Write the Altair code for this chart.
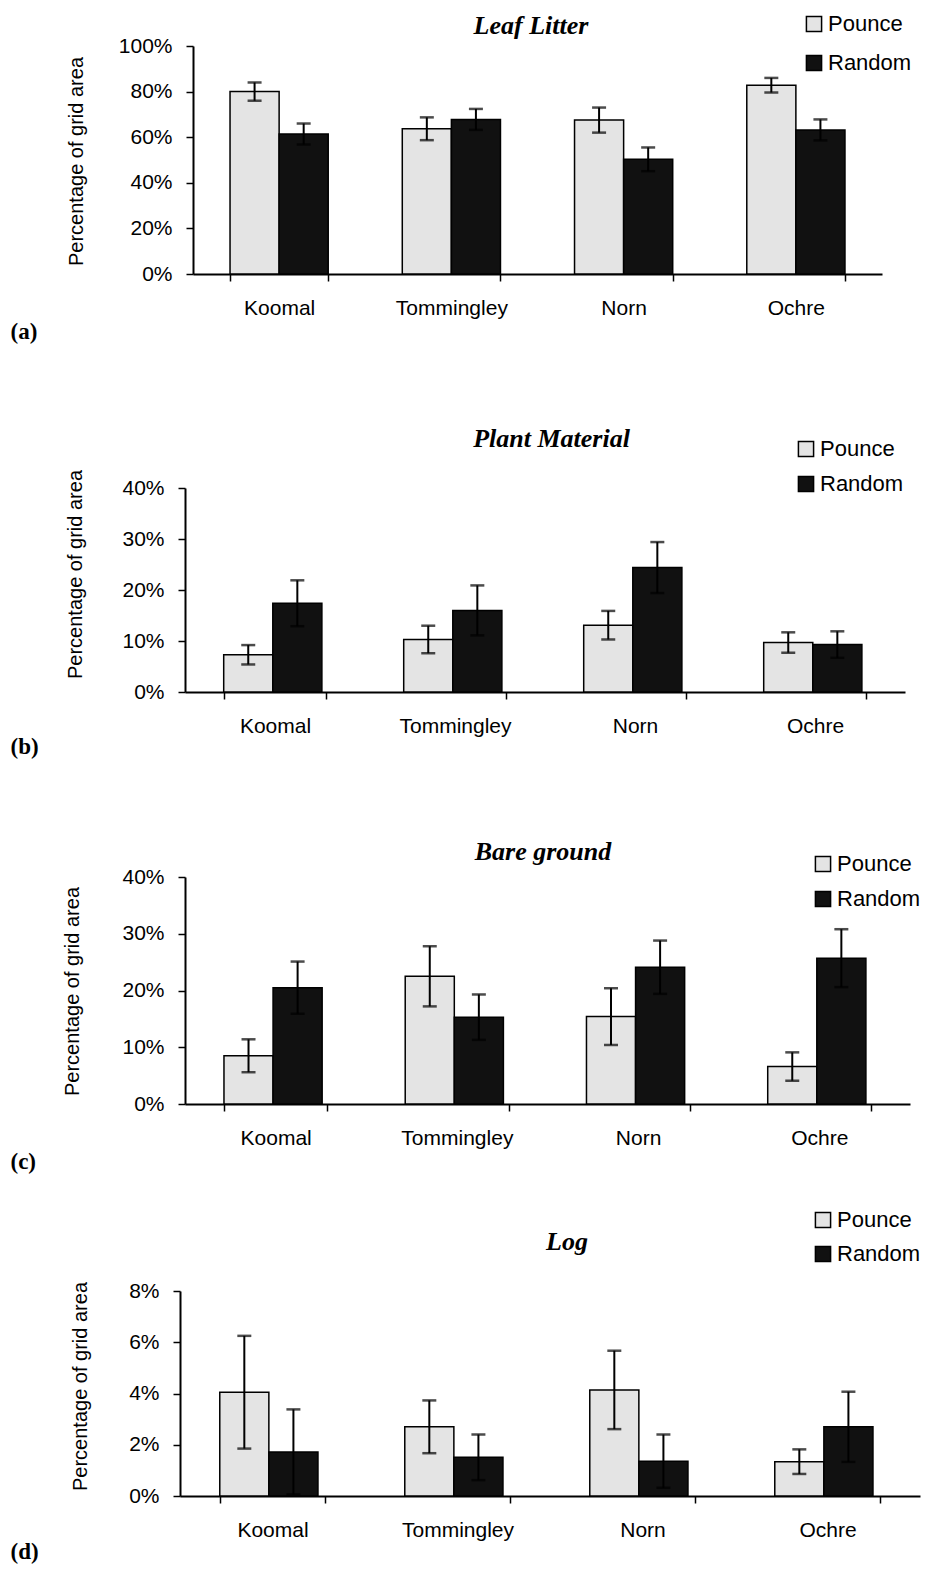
import altair as alt
import pandas as pd

sites = ["Koomal", "Tommingley", "Norn", "Ochre"]
series = ["Pounce", "Random"]

leaf_pounce = [80.0, 63.7, 67.5, 82.8]
leaf_pounce_err = [4.0, 5.0, 5.5, 3.2]
leaf_random = [61.4, 67.8, 50.3, 63.2]
leaf_random_err = [4.6, 4.6, 5.2, 4.6]

plant_pounce = [7.3, 10.3, 13.1, 9.7]
plant_pounce_err = [1.9, 2.7, 2.8, 2.0]
plant_random = [17.4, 16.0, 24.4, 9.3]
plant_random_err = [4.5, 4.9, 5.0, 2.6]

bare_pounce = [8.5, 22.5, 15.4, 6.6]
bare_pounce_err = [2.9, 5.3, 5.0, 2.5]
bare_random = [20.5, 15.3, 24.1, 25.7]
bare_random_err = [4.6, 4.0, 4.7, 5.1]

log_pounce = [4.05, 2.70, 4.14, 1.34]
log_pounce_err = [2.2, 1.03, 1.53, 0.48]
log_random = [1.72, 1.51, 1.36, 2.70]
log_random_err = [1.66, 0.89, 1.04, 1.37]

LIGHT = "#e4e4e4"
DARK = "#111111"


def make_df(pounce, perr, random, rerr):
    rows = []
    for i, s in enumerate(sites):
        for ser, vals, errs in (("Pounce", pounce, perr), ("Random", random, rerr)):
            m = vals[i] / 100.0
            e = errs[i] / 100.0
            rows.append({"site": s, "series": ser, "mean": m, "lo": m - e, "hi": m + e})
    return pd.DataFrame(rows)


def panel(title, label, data, ymax, ystep, H, h, left, width, t_off, t_dx,
          leg_x, leg_y, row_pad, ytitle_x, ytitle_y, roman_y):
    df = make_df(*data)
    nticks = int(round(ymax / ystep))
    yvals = [round(i * ystep, 4) for i in range(nticks + 1)]
    yscale = alt.Scale(domain=[0, ymax], range=[H, H - h], nice=False, zero=True)
    yaxis = alt.Axis(format=".0%", values=yvals,
                     title="Percentage of grid area",
                     titleFontSize=20, titleFontWeight="normal",
                     titleX=ytitle_x, titleY=ytitle_y, titleBaseline="middle",
                     titleAlign="center",
                     offset=-left, grid=False, domainWidth=2,
                     tickSize=7, tickWidth=1.5, labelFontSize=21,
                     labelPadding=14)
    xscale = alt.Scale(range=[left, width], paddingInner=0.43, paddingOuter=0.215)
    base = alt.Chart(df).encode(
        x=alt.X("site:N", sort=sites, scale=xscale,
                axis=alt.Axis(title=label, titleFont="Liberation Serif",
                              titleFontWeight="bold", titleFontSize=23,
                              titleX=-170, titleY=roman_y, titleAlign="left",
                              titleBaseline="middle", labelAngle=0,
                              labelFontSize=21, labelPadding=16,
                              tickBand="extent", tickSize=7, tickWidth=1.5,
                              domainWidth=2)),
        xOffset=alt.XOffset("series:N", sort=series,
                            scale=alt.Scale(paddingInner=0, paddingOuter=0)),
    )
    bars = base.mark_bar(stroke="black", strokeWidth=1.5).encode(
        y=alt.Y("mean:Q", scale=yscale, axis=yaxis),
        color=alt.Color("series:N", sort=series,
                        scale=alt.Scale(domain=series, range=[LIGHT, DARK]),
                        legend=alt.Legend(title=None, orient="none",
                                          legendX=leg_x, legendY=leg_y,
                                          symbolType="square", symbolSize=230,
                                          symbolStrokeColor="black",
                                          symbolStrokeWidth=1.5,
                                          labelFontSize=22, labelOffset=3,
                                          rowPadding=row_pad)),
    )
    err = base.mark_rule(color="black", strokeWidth=2).encode(
        y=alt.Y("lo:Q", scale=yscale, axis=yaxis), y2="hi:Q")
    cap_hi = base.mark_tick(color="black", thickness=2.5, size=14).encode(
        y=alt.Y("hi:Q", scale=yscale, axis=yaxis))
    cap_lo = base.mark_tick(color="black", thickness=2.5, size=14).encode(
        y=alt.Y("lo:Q", scale=yscale, axis=yaxis))
    return alt.layer(bars, err, cap_hi, cap_lo).properties(
        width=width, height=H,
        title=alt.TitleParams(title, font="Liberation Serif", fontStyle="italic",
                              fontWeight="bold", fontSize=26, anchor="middle",
                              offset=t_off, dx=t_dx),
    )


pa = panel("Leaf Litter", "(a)", (leaf_pounce, leaf_pounce_err, leaf_random, leaf_random_err),
           1.0, 0.2, 228, 228, 13, 702, -26, 0, 623, -33, 17, -117, 115, 57)
pb = panel("Plant Material", "(b)", (plant_pounce, plant_pounce_err, plant_random, plant_random_err),
           0.4, 0.1, 244, 204, 5, 725, -14, 9, 615, -10, 13, -110, 126, 54)
pc = panel("Bare ground", "(c)", (bare_pounce, bare_pounce_err, bare_random, bare_random_err),
           0.4, 0.1, 238, 227, 5, 730, -12, -2, 632, -13, 13, -113, 125, 57)
pd_ = panel("Log", "(d)", (log_pounce, log_pounce_err, log_random, log_random_err),
            0.08, 0.02, 218, 205, 0, 740, -46, 17, 632, -69, 12, -100, 108, 55)

chart = alt.vconcat(pa, pb, pc, pd_, spacing=174, bounds="flush").resolve_scale(
    x="independent", y="independent", color="independent"
).resolve_legend(color="independent").properties(
    padding={"left": 2, "top": 5, "right": 5, "bottom": 5}
).configure_view(stroke=None).configure_axis(
    labelFont="Liberation Sans", titleFont="Liberation Sans",
    labelColor="black", titleColor="black", domainColor="black", tickColor="black"
).configure_legend(labelFont="Liberation Sans", labelColor="black")

chart.save("out.html", embed_options={"renderer": "svg", "actions": False})
